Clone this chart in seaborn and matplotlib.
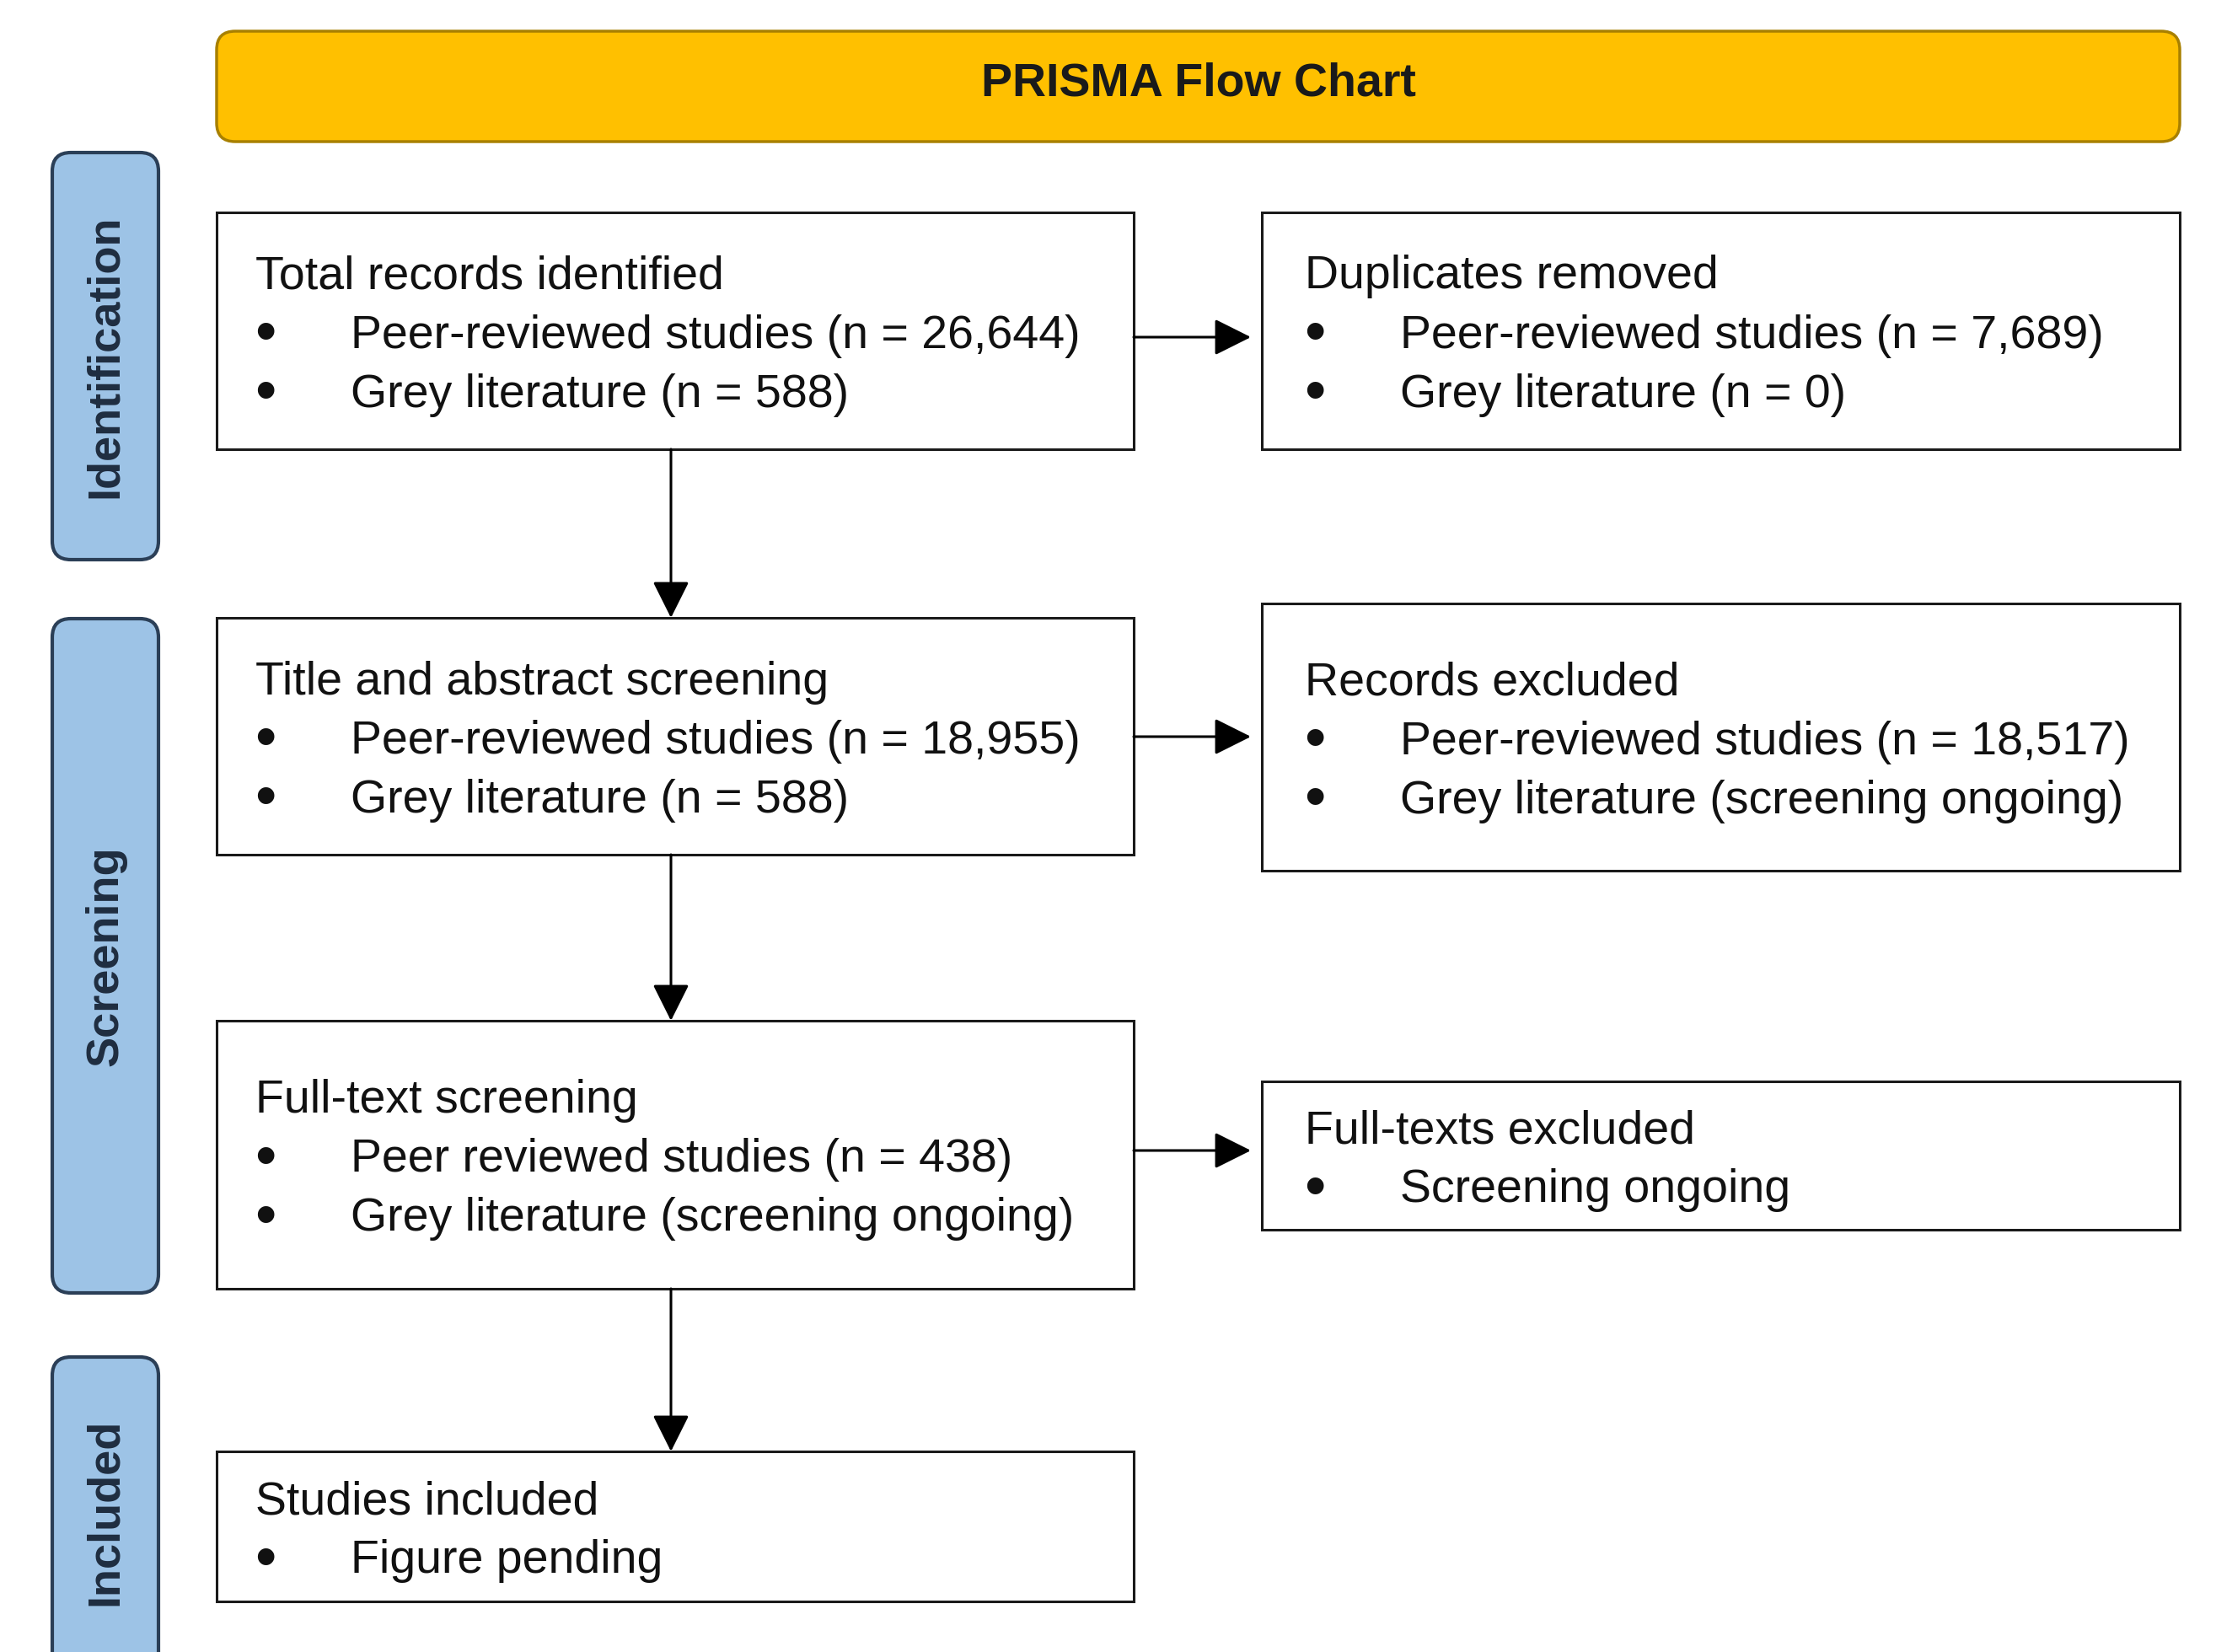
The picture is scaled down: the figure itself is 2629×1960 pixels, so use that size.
import matplotlib
matplotlib.use("Agg")
import matplotlib.pyplot as plt
from matplotlib.patches import FancyBboxPatch, Rectangle
import seaborn as sns

# Inhalt des Flussdiagramms
chart_title = "PRISMA Flow Chart"
stages = ["Identification", "Screening", "Included"]

main_titles = [
    "Total records identified",
    "Title and abstract screening",
    "Full-text screening",
    "Studies included",
]
main_items = [
    ["Peer-reviewed studies (n = 26,644)", "Grey literature (n = 588)"],
    ["Peer-reviewed studies (n = 18,955)", "Grey literature (n = 588)"],
    ["Peer reviewed studies (n = 438)", "Grey literature (screening ongoing)"],
    ["Figure pending"],
]

side_titles = ["Duplicates removed", "Records excluded", "Full-texts excluded"]
side_items = [
    ["Peer-reviewed studies (n = 7,689)", "Grey literature (n = 0)"],
    ["Peer-reviewed studies (n = 18,517)", "Grey literature (screening ongoing)"],
    ["Screening ongoing"],
]

# Layout in Pixeln (Bild 2629 x 1960)
W, H = 2629, 1960
LEFT_X = (257, 1345)
RIGHT_X = (1497, 2586)
main_y = [(252, 533), (733, 1014), (1211, 1529), (1722, 1900)]
side_y = [(252, 533), (716, 1033), (1283, 1459)]
arrow_y = [400, 874, 1365]
stage_y = [(181, 664), (734, 1534), (1610, 2040)]

FS = 40
LINE = 70
GOLD = "#FFC000"
GOLD_EDGE = "#A88000"
BLUE = "#9DC3E6"
BLUE_EDGE = "#2B3F57"
TEXT = "#111111"

sns.set_theme(style="white")
plt.rcParams["font.family"] = ["Liberation Sans", "DejaVu Sans"]

fig = plt.figure(figsize=(W / 100, H / 100), dpi=100)
ax = fig.add_axes([0, 0, 1, 1])
ax.set_xlim(0, W)
ax.set_ylim(H, 0)
ax.axis("off")


def draw_box(x, y, title, items, dx=0):
    x0, x1 = x
    y0, y1 = y
    ax.add_patch(Rectangle((x0, y0), x1 - x0, y1 - y0, facecolor="white",
                           edgecolor="#1a1a1a", lw=2.2, zorder=2))
    lines = [title] + items
    cy = (y0 + y1) / 2 + 6
    start = cy - LINE * (len(lines) - 1) / 2
    ax.text(x0 + 46 + dx, start, title, fontsize=FS, color=TEXT,
            ha="left", va="center", zorder=3)
    for i, item in enumerate(items):
        yy = start + LINE * (i + 1)
        ax.text(x0 + 58 + dx, yy, "\u2022", fontsize=FS + 12, color=TEXT,
                ha="center", va="center", zorder=3)
        ax.text(x0 + 159 + dx, yy, item, fontsize=FS, color=TEXT,
                ha="left", va="center", zorder=3)


# Titelbalken
ax.add_patch(FancyBboxPatch((257, 37), 2586 - 257, 168 - 37,
                            boxstyle="round,pad=0,rounding_size=22",
                            facecolor=GOLD, edgecolor=GOLD_EDGE, lw=2.5, zorder=2))
ax.text((257 + 2586) / 2, 100, chart_title, fontsize=FS, fontweight="bold",
        color="#1a1a1a", ha="center", va="center", zorder=3)

# Seitenleisten
for name, (y0, y1) in zip(stages, stage_y):
    ax.add_patch(FancyBboxPatch((62, y0), 188 - 62, y1 - y0,
                                boxstyle="round,pad=0,rounding_size=22",
                                facecolor=BLUE, edgecolor=BLUE_EDGE, lw=3, zorder=2))
    cy = (y0 + min(y1, 1978)) / 2 if y1 > H else (y0 + y1) / 2
    ax.text(125, cy, name, fontsize=39, fontweight="bold", color="#1f2d40",
            rotation=90, ha="center", va="center", zorder=3)

# Kästen
for title, items, y in zip(main_titles, main_items, main_y):
    draw_box(LEFT_X, y, title, items)
for title, items, y in zip(side_titles, side_items, side_y):
    draw_box(RIGHT_X, y, title, items, dx=5)

# Pfeile
arrow_kw = dict(arrowstyle="-|>,head_length=0.9,head_width=0.45", color="black",
                lw=2.2, shrinkA=0, shrinkB=0, mutation_scale=30)
xm = 796
for (a, b) in zip(main_y[:-1], main_y[1:]):
    ax.annotate("", xy=(xm, b[0]), xytext=(xm, a[1]), arrowprops=arrow_kw, zorder=4)
for yy in arrow_y:
    ax.annotate("", xy=(1484, yy), xytext=(LEFT_X[1], yy), arrowprops=arrow_kw, zorder=4)

fig.savefig("out.png", dpi=100, facecolor="white")
